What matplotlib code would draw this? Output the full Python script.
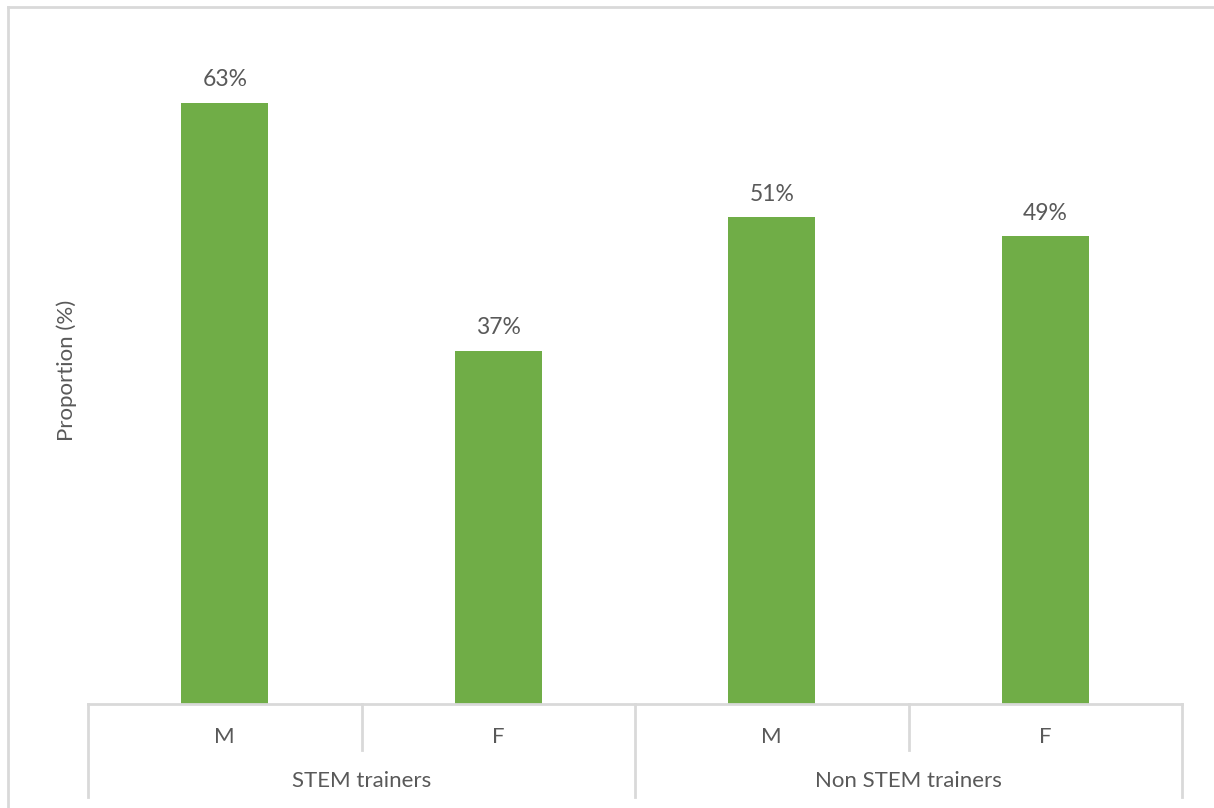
import matplotlib
matplotlib.use('Agg')
import matplotlib.pyplot as plt
from matplotlib.lines import Line2D

# данные
groups = ['STEM trainers', 'Non STEM trainers']
sexes = ['M', 'F', 'M', 'F']
values = [63, 37, 51, 49]

bar_color = '#70AD47'
text_color = '#595959'
line_color = '#D9D9D9'

plt.rcParams['font.family'] = ['Lato', 'DejaVu Sans']

fig = plt.figure(figsize=(12.14, 8.08), dpi=100)
W, H = 1214, 808
# область графика в пикселях: слева 88, справа 1182, сверху 36, снизу 704
ax = fig.add_axes([88 / W, 1 - 704 / H, (1182 - 88) / W, (704 - 36) / H])

x = list(range(len(values)))
ax.bar(x, values, width=0.318, color=bar_color)
ax.set_xlim(-0.5, len(values) - 0.5)
ax.set_ylim(0, 70)

for xi, v in zip(x, values):
    ax.annotate(f'{v}%', (xi, v), xytext=(0, 9), textcoords='offset points',
                ha='center', va='bottom', fontsize=16.5, color=text_color)

for s in ax.spines.values():
    s.set_visible(False)
ax.set_xticks([])
ax.set_yticks([])

# многоуровневая ось категорий
tr = ax.get_xaxis_transform()
ax.plot([-0.5, 3.5], [0, 0], transform=tr, color=line_color, lw=2, clip_on=False)
for b in [-0.5, 1.5, 3.5]:
    ax.plot([b, b], [0, -0.139], transform=tr, color=line_color, lw=2, clip_on=False)
for b in [0.5, 2.5]:
    ax.plot([b, b], [0, -0.069], transform=tr, color=line_color, lw=2, clip_on=False)
for xi, s in zip(x, sexes):
    ax.text(xi, -0.049, s, transform=tr, ha='center', va='center',
            fontsize=16, color=text_color)
for i, g in enumerate(groups):
    ax.text(2 * i + 0.5, -0.115, g, transform=tr, ha='center', va='center',
            fontsize=16, color=text_color)

fig.text(67 / W, 1 - 370 / H, 'Proportion (%)', rotation=90, ha='center', va='center',
         fontsize=16, color=text_color)

# рамка диаграммы (верх и левый край)
fig.add_artist(Line2D([8 / W, 1], [1 - 7 / H, 1 - 7 / H], transform=fig.transFigure,
                      color=line_color, lw=2))
fig.add_artist(Line2D([8 / W, 8 / W], [0, 1 - 7 / H], transform=fig.transFigure,
                      color=line_color, lw=2))

fig.savefig('out.png', dpi=100)
